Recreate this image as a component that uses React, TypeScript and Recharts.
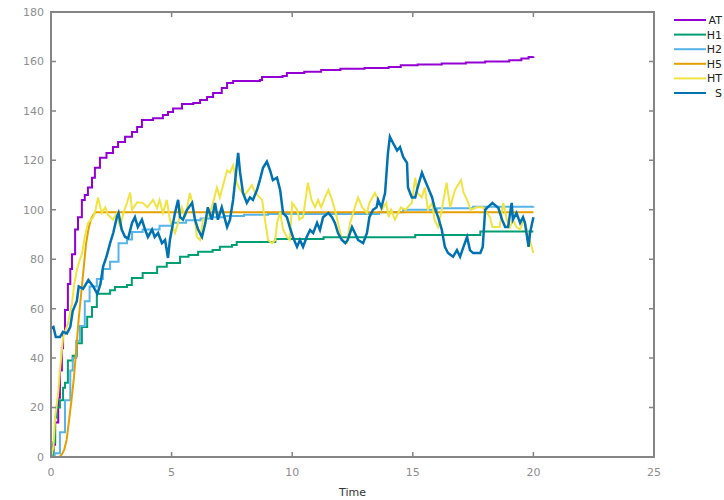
import { LineChart, Line, XAxis, YAxis } from 'recharts';

// axis ticks
const xTicks = [0, 5, 10, 15, 20, 25];
const yTicks = [0, 20, 40, 60, 80, 100, 120, 140, 160, 180];

// AT
const atTime = [0, 0.1, 0.17, 0.3, 0.37, 0.45, 0.5, 0.58, 0.7, 0.8, 0.87, 1.0, 1.12, 1.28, 1.4, 1.53, 1.7, 1.82, 2.03, 2.3, 2.57, 2.78, 3.07, 3.36, 3.57, 3.77, 4.23, 4.64, 4.85, 5.06, 5.43, 5.9, 6.18, 6.47, 6.72, 7.08, 7.3, 7.55, 8.66, 8.75, 9.6, 9.78, 10.5, 11.2, 12.0, 13.0, 14.0, 14.5, 15.2, 16.2, 17.2, 18.0, 19.0, 19.5, 19.8, 20];
const atValue = [0, 5, 14, 24, 35, 44, 50, 59.5, 70, 76, 82, 92, 97, 104, 106, 109, 113, 117, 121, 123, 125.4, 127.4, 129.5, 131.5, 133.5, 136.3, 137, 138.3, 139.6, 141, 142.8, 143.2, 144.4, 145.6, 147.2, 149.3, 151.3, 152.1, 152.5, 153.7, 154.1, 155.3, 155.8, 156.5, 157, 157.3, 157.8, 158.5, 158.8, 159.2, 159.6, 160, 160.5, 161.2, 161.8, 162];

// H1
const h1Time = [0, 0.1, 0.17, 0.23, 0.37, 0.5, 0.58, 0.7, 0.9, 1.07, 1.28, 1.5, 1.7, 1.9, 2.45, 2.65, 3.15, 3.35, 3.8, 4.4, 4.8, 5.35, 5.7, 6.1, 6.7, 7.0, 7.5, 7.7, 9.3, 11.3, 15.1, 17.8, 20];
const h1Value = [0, 6, 16, 20, 23, 28, 30, 39, 41, 46, 52.6, 56.7, 60.7, 66, 67.5, 68.8, 69.6, 72.4, 74.4, 77, 78.5, 81, 81.7, 83, 83.7, 85, 85.8, 87, 88.2, 88.9, 89.8, 91.2, 91.2];

// H2
const h2Time = [0, 0.15, 0.37, 0.58, 0.8, 0.9, 1.05, 1.2, 1.4, 1.6, 1.9, 2.15, 2.45, 2.8, 3.15, 3.36, 3.8, 4.5, 5.0, 5.6, 6.2, 6.6, 7.2, 8.0, 9.0, 13.6, 14.6, 16.0, 17.5, 20];
const h2Value = [0, 1.5, 10, 23, 35, 40, 47, 53, 63, 69, 72, 76, 79, 86.5, 88, 91, 92, 93.5, 94.8, 95.8, 96.5, 97, 97.5, 98, 98.3, 99, 100, 100.6, 101.2, 101.3];

// H5
const h5Time = [0, 0.35, 0.45, 0.55, 0.65, 0.75, 0.85, 0.95, 1.05, 1.15, 1.25, 1.35, 1.45, 1.55, 1.65, 1.75, 1.85, 20];
const h5Value = [0, 0, 1, 3, 7, 15, 23, 32, 44, 56, 66, 76, 86, 92, 96, 98, 99, 99];

// HT
const htTime = [0, 0.1, 0.17, 0.3, 0.37, 0.45, 0.5, 0.7, 0.87, 0.95, 1.07, 1.2, 1.28, 1.4, 1.53, 1.75, 1.85, 1.95, 2.1, 2.25, 2.36, 2.57, 2.73, 2.86, 3.0, 3.15, 3.28, 3.36, 3.57, 3.8, 4.0, 4.23, 4.4, 4.5, 4.64, 4.8, 4.93, 5.14, 5.27, 5.43, 5.56, 5.76, 5.9, 6.05, 6.18, 6.3, 6.47, 6.67, 6.88, 7.0, 7.3, 7.42, 7.55, 7.7, 7.84, 8.04, 8.33, 8.46, 8.75, 8.87, 9.0, 9.16, 9.3, 9.37, 9.5, 9.62, 9.78, 9.9, 10.0, 10.2, 10.3, 10.45, 10.65, 10.8, 10.95, 11.07, 11.2, 11.36, 11.5, 11.65, 11.77, 11.9, 12.06, 12.27, 12.4, 12.6, 12.73, 12.9, 13.1, 13.2, 13.43, 13.56, 13.7, 13.9, 14.0, 14.1, 14.26, 14.4, 14.5, 14.7, 14.96, 15.1, 15.2, 15.37, 15.5, 15.63, 15.8, 15.9, 16.05, 16.2, 16.4, 16.55, 16.75, 17.0, 17.1, 17.25, 17.4, 17.65, 17.9, 18.05, 18.2, 18.3, 18.6, 18.75, 18.9, 19.03, 19.15, 19.3, 19.45, 19.6, 19.7, 19.85, 20];
const htValue = [0, 4, 16, 26, 35, 43, 48.5, 54, 62, 69, 75.6, 80, 82, 89, 94.6, 97, 100, 105, 98.7, 101, 98, 96, 98.7, 93, 98.7, 102.8, 107, 100, 103, 102.8, 101, 104, 100.7, 104, 98.7, 104, 96, 90.6, 94.7, 101, 97, 106.8, 101, 89, 87.8, 96, 97, 101, 109, 105, 116, 115, 118, 111, 108, 106, 110, 107, 104, 96, 87.8, 86.5, 87.8, 94.7, 99, 92, 89, 87.8, 102.8, 100, 96, 97, 111, 104, 101, 104, 101, 105, 108, 104, 100, 94.7, 87.8, 86.5, 94.7, 101, 105, 101, 98.7, 102.8, 106.8, 104, 100, 102.8, 97, 100, 96, 98.7, 101, 100, 102.8, 113, 106.8, 105, 109, 100, 102.8, 96, 93, 100, 111, 101, 108, 112, 107, 104, 100, 101, 101, 99, 97, 93, 93, 102.8, 96, 93, 96, 93, 92, 96, 93, 87.8, 82.5];

// S
const sTime = [0, 0.1, 0.2, 0.37, 0.5, 0.66, 0.8, 0.9, 1.07, 1.15, 1.33, 1.55, 1.75, 1.92, 2.05, 2.16, 2.3, 2.45, 2.58, 2.73, 2.8, 2.93, 3.07, 3.2, 3.36, 3.48, 3.6, 3.77, 3.9, 4.02, 4.19, 4.3, 4.44, 4.6, 4.73, 4.85, 4.93, 5.06, 5.14, 5.27, 5.35, 5.47, 5.64, 5.85, 5.97, 6.1, 6.26, 6.4, 6.5, 6.67, 6.8, 6.92, 7.08, 7.3, 7.42, 7.55, 7.67, 7.76, 7.84, 7.96, 8.12, 8.25, 8.37, 8.54, 8.66, 8.79, 8.95, 9.08, 9.2, 9.37, 9.5, 9.62, 9.78, 9.9, 10.03, 10.2, 10.32, 10.45, 10.6, 10.74, 10.87, 11.03, 11.15, 11.28, 11.5, 11.65, 11.77, 11.9, 12.06, 12.2, 12.3, 12.48, 12.6, 12.73, 12.94, 13.1, 13.2, 13.35, 13.5, 13.56, 13.7, 13.85, 13.97, 14.05, 14.18, 14.35, 14.47, 14.6, 14.76, 14.8, 14.96, 15.1, 15.2, 15.38, 15.5, 15.63, 15.8, 15.9, 16.05, 16.2, 16.33, 16.46, 16.67, 16.83, 16.96, 17.1, 17.25, 17.37, 17.5, 17.8, 17.9, 18.0, 18.1, 18.3, 18.55, 18.7, 18.83, 18.95, 19.1, 19.15, 19.3, 19.45, 19.57, 19.65, 19.8, 19.86, 20];
const sValue = [52, 52.6, 48.5, 48.5, 50.6, 50, 52.6, 59, 63, 69, 68, 71.6, 69, 66, 70, 77, 81, 86.5, 90.6, 97, 98.7, 92, 89, 88.5, 94.7, 97, 93, 96, 92, 89, 92, 89, 90.6, 86.5, 87.8, 80.5, 87.8, 94.7, 98.7, 104, 97, 96, 100, 102.8, 96, 92, 89, 94.7, 101, 96, 102.8, 96, 101, 93, 96, 104, 115, 123, 115, 106.8, 102.8, 105, 104, 108, 112, 117, 119.5, 116, 112, 113, 108, 98.7, 97, 93, 89, 85, 87.8, 85, 89, 91.8, 90.6, 94.7, 91.8, 97, 98.7, 97, 94.7, 90.6, 87.8, 86.5, 87.8, 93, 90.6, 87.8, 86.5, 90.6, 97, 100, 101, 104, 101, 106.8, 123, 129.5, 127, 124, 125.4, 121.4, 119, 109, 105, 105, 109, 115, 112, 109, 105, 101, 97, 92, 85, 82.5, 81, 83.7, 81, 85, 89, 83.7, 82.5, 82.5, 85, 100, 101, 102.8, 100.7, 96, 93, 93, 102.8, 96, 98.7, 94.7, 97, 94.7, 85, 90.6, 97];

const zip = (ts: number[], vs: number[]) => ts.map((t, i) => ({ t, v: vs[i] }));

const series = [
    { name: 'AT', color: '#9400d3', data: zip(atTime, atValue), type: 'stepAfter', width: 2 },
    { name: 'H1', color: '#009e73', data: zip(h1Time, h1Value), type: 'stepAfter', width: 2 },
    { name: 'H2', color: '#56b4e9', data: zip(h2Time, h2Value), type: 'stepAfter', width: 2 },
    { name: 'H5', color: '#e69f00', data: zip(h5Time, h5Value), type: 'linear', width: 2 },
    { name: 'HT', color: '#f0e442', data: zip(htTime, htValue), type: 'linear', width: 2 },
    { name: 'S', color: '#0072b2', data: zip(sTime, sValue), type: 'linear', width: 2.5 },
];

const AXIS = '#858585';
const LABEL = '#8e8e8e';
const FONT = 'DejaVu Sans';
const TICK_LEN = 5;

const W = 724;
const H = 500;
const MARGIN = { top: 12, right: 70, bottom: 0, left: 0 };
const X_AXIS_H = 43;
const Y_AXIS_W = 51;

// plot box, same numbers the chart is laid out with
const box = {
    left: MARGIN.left + Y_AXIS_W,
    right: W - MARGIN.right,
    top: MARGIN.top,
    bottom: H - MARGIN.bottom - X_AXIS_H,
};
const X_MAX = xTicks[xTicks.length - 1];
const Y_MAX = yTicks[yTicks.length - 1];
const px = (t: number) => box.left + (t / X_MAX) * (box.right - box.left);
const py = (v: number) => box.bottom - (v / Y_MAX) * (box.bottom - box.top);

export default function App() {
    const tickStyle = { fill: LABEL, fontSize: 11, fontFamily: FONT };
    const border = { stroke: AXIS, strokeWidth: 2 };
    return (
        <div style={{ position: 'fixed', left: 0, top: 0, width: W, height: H, overflow: 'hidden', background: '#fff', fontFamily: FONT }}>
            <LineChart width={W} height={H} margin={MARGIN}>
                <XAxis xAxisId="b" dataKey="t" type="number" domain={[0, X_MAX]} ticks={xTicks} allowDataOverflow
                    height={X_AXIS_H} tickSize={0} tickMargin={11} tick={tickStyle} tickLine={false}
                    axisLine={border}
                    label={{ value: 'Time', position: 'insideBottom', offset: 4, fill: '#333', fontSize: 11, fontFamily: FONT }} />
                <YAxis yAxisId="l" type="number" domain={[0, Y_MAX]} ticks={yTicks} allowDataOverflow
                    width={Y_AXIS_W} tickSize={0} tickMargin={7} tick={tickStyle} tickLine={false}
                    axisLine={border} />
                {series.map(s => (
                    <Line key={s.name} xAxisId="b" yAxisId="l" data={s.data} dataKey="v" name={s.name}
                        type={s.type as any} stroke={s.color} strokeWidth={s.width} dot={false}
                        isAnimationActive={false} />
                ))}
            </LineChart>
            <svg width={W} height={H} style={{ position: 'absolute', left: 0, top: 0, pointerEvents: 'none' }}>
                {/* gnuplot-style box: full border and inward ticks on all sides */}
                <rect x={box.left} y={box.top} width={box.right - box.left} height={box.bottom - box.top}
                    fill="none" stroke={AXIS} strokeWidth={2} />
                {xTicks.slice(1, -1).map(t => (
                    <path key={'x' + t} fill="none" stroke={AXIS} strokeWidth={1.5}
                        d={`M${px(t)},${box.bottom} v${-TICK_LEN} M${px(t)},${box.top} v${TICK_LEN}`} />
                ))}
                {yTicks.slice(1, -1).map(v => (
                    <path key={'y' + v} fill="none" stroke={AXIS} strokeWidth={1.5}
                        d={`M${box.left},${py(v)} h${TICK_LEN} M${box.right},${py(v)} h${-TICK_LEN}`} />
                ))}
                {/* key, right-justified labels like the original */}
                {series.map((s, i) => (
                    <g key={s.name}>
                        <line x1={674} x2={706} y1={20 + i * 14.6} y2={20 + i * 14.6} stroke={s.color} strokeWidth={2} />
                        <text x={722} y={20 + i * 14.6} dy="0.36em" textAnchor="end" fontSize={11} fontFamily={FONT} fill="#222">{s.name}</text>
                    </g>
                ))}
            </svg>
        </div>
    );
}
